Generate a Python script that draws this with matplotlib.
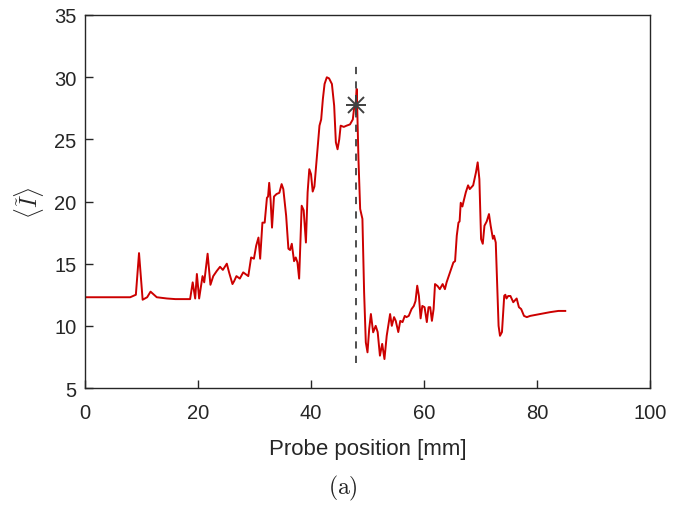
import numpy as np
import matplotlib
matplotlib.use('Agg')
import matplotlib.pyplot as plt

## probe position [mm] and mean intensity
pos = [0.0, 4.0, 8.0, 9.0, 9.56, 10.2, 11.0, 11.6, 12.7, 14.5, 16.0, 18.6,
       19.06, 19.5, 19.8, 20.2, 20.8, 21.1, 21.7, 22.2, 22.7, 23.3, 23.9, 24.4,
       25.1, 25.5, 26.1, 26.4, 26.8, 27.4, 28.0, 28.9, 29.4, 29.9, 30.3, 30.7,
       31.0, 31.4, 31.8, 32.2, 32.4, 32.6, 32.85, 33.1, 33.45, 33.9, 34.4, 34.8,
       35.1, 35.6, 36.0, 36.3, 36.6, 37.0, 37.3, 37.6, 37.9, 38.35, 38.7, 39.1,
       39.4, 39.7, 40.0, 40.3, 40.6, 41.0, 41.5, 41.8, 42.1, 42.4, 42.8, 43.2,
       43.7, 44.1, 44.4, 44.7, 45.0, 45.25, 45.8, 46.3, 46.9, 47.4, 47.6, 47.9,
       48.1, 48.4, 48.7, 49.1, 49.4, 49.7, 50.0, 50.3, 50.6, 51.0, 51.45, 51.8,
       52.2, 52.6, 53.0, 53.4, 54.0, 54.3, 54.7, 55.0, 55.45, 55.8, 56.2, 56.6,
       56.9, 57.3, 57.8, 58.2, 58.5, 58.8, 59.1, 59.4, 59.7, 60.1, 60.5, 60.8,
       61.1, 61.4, 61.7, 61.95, 62.4, 62.8, 63.3, 63.7, 64.0, 64.6, 65.2, 65.5,
       65.8, 66.1, 66.3, 66.5, 66.8, 67.0, 67.4, 67.8, 68.1, 68.7, 69.2, 69.5,
       69.8, 70.1, 70.4, 70.7, 71.1, 71.5, 71.8, 72.2, 72.4, 72.7, 73.2, 73.45,
       73.8, 74.2, 74.4, 74.6, 74.9, 75.3, 75.8, 76.4, 76.8, 77.2, 77.7, 78.2,
       78.8, 80.5, 82.3, 83.8, 85.0]
intensity = [12.3, 12.3, 12.3, 12.5, 15.85, 12.1, 12.3, 12.75, 12.3, 12.2, 12.15, 12.15,
             13.5, 12.2, 14.17, 12.2, 14.0, 13.5, 15.8, 13.3, 14.0, 14.4, 14.75, 14.5,
             15.0, 14.3, 13.36, 13.6, 14.0, 13.8, 14.3, 14.0, 15.5, 15.4, 16.45, 17.1,
             15.4, 18.3, 18.3, 20.3, 20.4, 21.5, 20.1, 17.9, 20.4, 20.6, 20.7, 21.4,
             21.0, 18.85, 16.2, 16.1, 16.6, 15.2, 15.5, 15.1, 13.8, 19.66, 19.3, 16.7,
             20.74, 22.6, 22.2, 20.8, 21.2, 23.4, 26.1, 26.6, 28.24, 29.45, 29.99, 29.9,
             29.45, 27.7, 24.76, 24.2, 25.0, 26.1, 26.0, 26.1, 26.2, 26.6, 27.4, 27.9,
             29.05, 23.4, 19.4, 18.6, 12.7, 8.67, 7.87, 9.75, 10.95, 9.48, 10.0, 9.5,
             7.6, 8.55, 7.33, 9.2, 10.95, 10.0, 10.7, 10.4, 9.5, 10.4, 10.3, 10.8,
             10.7, 10.8, 11.35, 11.6, 12.0, 13.23, 12.4, 10.6, 11.6, 11.5, 10.3, 11.5,
             11.5, 10.4, 11.35, 13.36, 13.2, 12.95, 13.36, 12.95, 13.5, 14.3, 15.1, 15.2,
             17.25, 18.3, 18.4, 19.9, 19.6, 20.0, 20.74, 21.3, 21.0, 21.3, 22.35, 23.15,
             21.8, 16.98, 16.6, 18.05, 18.4, 18.99, 18.05, 17.0, 17.25, 16.7, 10.0, 9.2,
             9.5, 12.42, 12.5, 12.2, 12.4, 12.4, 11.9, 12.2, 11.5, 11.35, 10.8, 10.7,
             10.8, 10.95, 11.1, 11.2, 11.2]

## selected position
sel_pos = 47.9
sel_val = 27.8
sel_range = [7.0, 31.0]

plt.rcParams['mathtext.fontset'] = 'cm'
plt.rcParams['font.family'] = ['Liberation Sans', 'DejaVu Sans']

axcol = '#262626'

fig = plt.figure(figsize=(6.85, 5.06), dpi=100)
ax = fig.add_axes([0.1241, 0.2312, 0.8248, 0.7372])

ax.plot(pos, intensity, color='#cc0000', linewidth=1.4)
ax.plot([sel_pos, sel_pos], sel_range, linestyle=(0, (4, 4)), color='#404040', linewidth=1.3)
# matlab-style asterisk = plus + cross
ax.plot(sel_pos, sel_val, marker='+', linestyle='none', color='#404040',
        markersize=15, markeredgewidth=1.4)
ax.plot(sel_pos, sel_val, marker='x', linestyle='none', color='#404040',
        markersize=11, markeredgewidth=1.4)

ax.set_xlim(0, 100)
ax.set_ylim(5, 35)
ax.set_xticks(np.arange(0, 101, 20))
ax.set_yticks(np.arange(5, 36, 5))
ax.tick_params(direction='in', length=6, width=1.0, colors=axcol, labelsize=14.5,
               top=False, right=False)
ax.tick_params(axis='x', pad=11)
ax.tick_params(axis='y', pad=6)
for s in ax.spines.values():
    s.set_color(axcol)
    s.set_linewidth(1.0)

ax.set_xlabel('Probe position [mm]', fontsize=16, color=axcol, labelpad=11)
ax.set_ylabel(r'$\langle \tilde{I} \rangle$', fontsize=17, color=axcol, labelpad=6)

fig.text(0.5, 0.034, r'$\mathrm{(a)}$', ha='center', va='center', fontsize=17, color='#222222')

plt.savefig('out.png', dpi=100)
